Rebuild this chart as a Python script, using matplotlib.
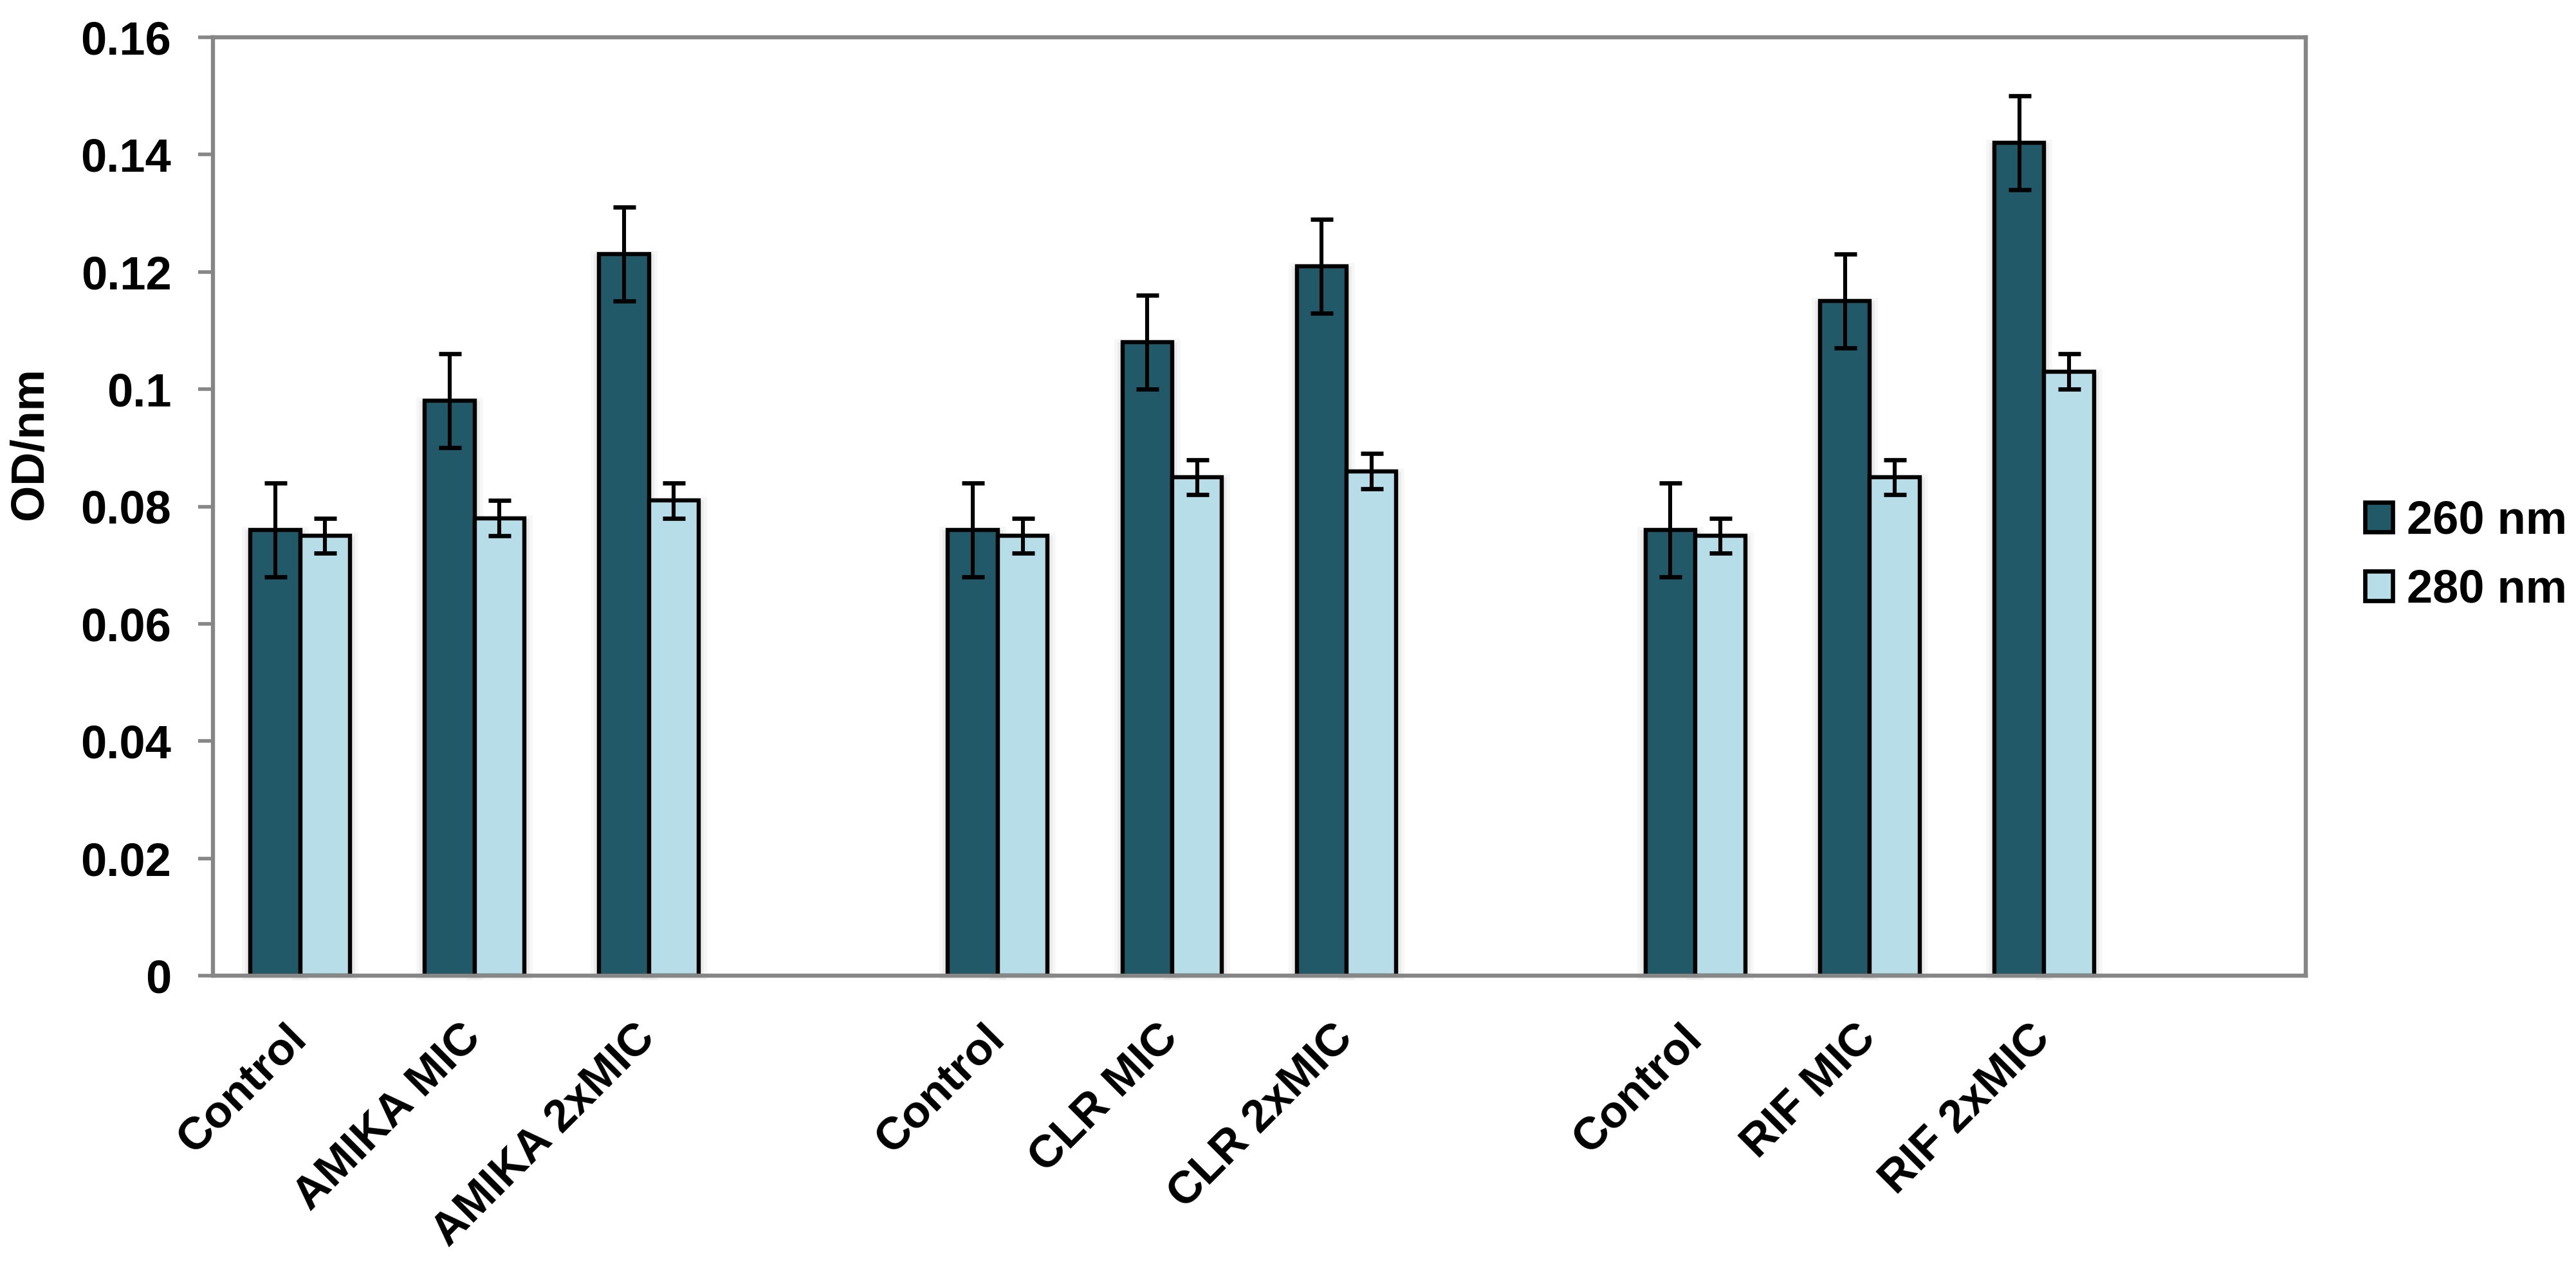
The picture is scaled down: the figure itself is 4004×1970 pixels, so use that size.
import numpy as np
import matplotlib
matplotlib.use("Agg")
import matplotlib.pyplot as plt
from matplotlib.patches import Patch

plt.rcParams['font.family'] = ['Liberation Sans', 'DejaVu Sans']
plt.rcParams['font.weight'] = 'bold'

# datos
categorias = ["Control", "AMIKA MIC", "AMIKA 2xMIC", "",
              "Control", "CLR MIC", "CLR 2xMIC", "",
              "Control", "RIF MIC", "RIF 2xMIC", ""]
od_260 = [0.076, 0.098, 0.123, np.nan, 0.076, 0.108, 0.121, np.nan, 0.076, 0.115, 0.142, np.nan]
err_260 = [0.008, 0.008, 0.008, 0, 0.008, 0.008, 0.008, 0, 0.008, 0.008, 0.008, 0]
od_280 = [0.075, 0.078, 0.081, np.nan, 0.075, 0.085, 0.086, np.nan, 0.075, 0.085, 0.103, np.nan]
err_280 = [0.003, 0.003, 0.003, 0, 0.003, 0.003, 0.003, 0, 0.003, 0.003, 0.003, 0]
yticks = [0, 0.02, 0.04, 0.06, 0.08, 0.1, 0.12, 0.14, 0.16]
ytick_labels = ["0", "0.02", "0.04", "0.06", "0.08", "0.1", "0.12", "0.14", "0.16"]
series = ["260 nm", "280 nm"]

color_260 = "#215968"
color_280 = "#B7DDE8"
gris = "#868686"

fig = plt.figure(figsize=(20.02, 9.85), dpi=200)
ax = fig.add_axes([331 / 4004, 1 - 1517 / 1970, (3584 - 331) / 4004, (1517 - 58) / 1970])

x = np.arange(len(categorias))
w = 1 / 1.75 / 2

# sombra suave detras de las barras (como en Excel)
px = 1 / 271.1
py = 0.16 / 1459
for vals, desp in [(od_260, -w / 2), (od_280, w / 2)]:
    vals = np.array(vals)
    for crece, alfa in [(4, 0.06), (8, 0.045), (13, 0.03)]:
        base = -crece * 0.5 * py
        ax.bar(x + desp, vals + (crece - 8) * py - base, w + 2 * crece * px, bottom=base,
               color="black", alpha=alfa, linewidth=0, zorder=1.5, clip_on=False)

err_kw = dict(elinewidth=2.2, capthick=2.4, ecolor="black")
ax.bar(x - w / 2, od_260, w, color=color_260, edgecolor="black", linewidth=2.3,
       yerr=err_260, capsize=6.3, error_kw=err_kw, zorder=2)
ax.bar(x + w / 2, od_280, w, color=color_280, edgecolor="black", linewidth=2.3,
       yerr=err_280, capsize=6.3, error_kw=err_kw, zorder=2)

ax.set_xlim(-0.5, len(categorias) - 0.5)
ax.set_ylim(0, 0.16)
ax.set_yticks(yticks)
ax.set_yticklabels(ytick_labels, fontsize=26, fontweight="bold")
ax.set_xticks(x)
ax.set_xticklabels(categorias, fontsize=25.5, fontweight="bold", rotation=45,
                   ha="right", va="center", rotation_mode="anchor")
ax.tick_params(axis="x", length=0, pad=31.5)
ax.tick_params(axis="y", length=8.3, width=2.0, color=gris, pad=15)

for s in ax.spines.values():
    s.set_color(gris)
    s.set_linewidth(2.3)
    s.set_zorder(3)

ax.set_ylabel("OD/nm", fontsize=26, fontweight="bold")
ax.yaxis.set_label_coords(-0.077, 0.567)

handles = [Patch(facecolor=color_260, edgecolor="black", linewidth=2.4),
           Patch(facecolor=color_280, edgecolor="black", linewidth=2.4)]
fig.legend(handles, series, loc="center left", bbox_to_anchor=(3676 / 4004, 1 - 864 / 1970),
           frameon=False, prop={"weight": "bold", "size": 26},
           handlelength=0.6, handleheight=0.6, handletextpad=0.3, labelspacing=0.55,
           borderpad=0, borderaxespad=0)

fig.savefig("out.png", dpi=200)
